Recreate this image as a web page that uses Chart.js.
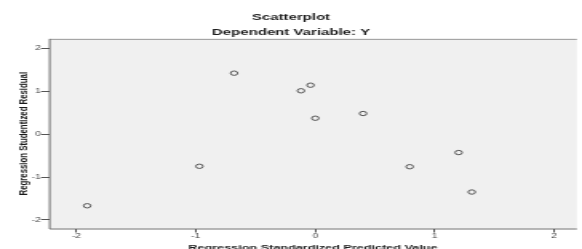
<!DOCTYPE html>
<html>
<head>
<meta charset="utf-8">
<script src="https://cdn.jsdelivr.net/npm/chart.js@4/dist/chart.umd.min.js"></script>
<style>
	html, body { margin: 0; padding: 0; background: #fff; overflow: hidden; }
	#Scatter { display: block; width: 582px; height: 249px; }
</style>
</head>
<body>
<canvas id="Scatter" width="364" height="249" style="width:582px;height:249px"></canvas>
<script>
// values
const predicted = [-0.68, -0.12, -0.04, 0.00, 0.40, -0.97, 0.79, 1.20, 1.31, -1.91];
const residual = [1.42, 1.01, 1.14, 0.37, 0.48, -0.75, -0.76, -0.43, -1.35, -1.67];
const title_lines = ["Scatterplot", "Dependent Variable: Y"];
const x_title = "Regression Standardized Predicted Value";
const y_title = "Regression Studentized Residual";

const FONT = "'Liberation Sans', Arial, sans-serif";

// the picture is stretched sideways, so the canvas is drawn narrow and widened by css
const plot_frame = {
	id: "plot_frame",
	beforeDraw(chart) {
		const {ctx, chartArea: a} = chart;
		ctx.save();
		ctx.fillStyle = "#f0f0f0";
		ctx.fillRect(a.left, a.top, a.right - a.left, a.bottom - a.top);
		ctx.lineWidth = 1;
		ctx.beginPath();
		ctx.moveTo(a.right, a.top + 0.5);
		ctx.lineTo(a.left + 0.5, a.top + 0.5);
		ctx.strokeStyle = "#999";
		ctx.stroke();
		ctx.beginPath();
		ctx.moveTo(a.left + 0.5, a.top);
		ctx.lineTo(a.left + 0.5, a.bottom + 0.5);
		ctx.lineTo(a.right, a.bottom + 0.5);
		ctx.strokeStyle = "#707070";
		ctx.stroke();
		ctx.restore();
	}
};

function no_padding(scale) {
	scale.paddingLeft = 0;
	scale.paddingRight = 0;
	scale.paddingTop = 0;
	scale.paddingBottom = 0;
}

const tick_font = {family: FONT, size: 6.5};

new Chart(document.getElementById("Scatter").getContext("2d"), {
	type: "scatter",
	data: {
		datasets: [{
			data: predicted.map((x, i) => ({x, y: residual[i]})),
			pointStyle: "circle",
			pointRadius: 2.2,
			pointHoverRadius: 2.2,
			borderWidth: 1,
			borderColor: "#555",
			backgroundColor: "rgba(0,0,0,0)"
		}]
	},
	options: {
		responsive: false,
		animation: false,
		devicePixelRatio: 1,
		layout: {padding: 0},
		plugins: {
			legend: {display: false},
			tooltip: {enabled: false},
			title: {
				display: true,
				text: title_lines[0],
				color: "#1a1a1a",
				font: {family: FONT, size: 9.4, weight: "bold"},
				padding: {top: 11.3, bottom: 0}
			},
			subtitle: {
				display: true,
				text: title_lines[1],
				color: "#1a1a1a",
				font: {family: FONT, size: 9.4, weight: "bold"},
				padding: {top: 3.7, bottom: 1.3}
			}
		},
		scales: {
			x: {
				type: "linear",
				min: -2.23,
				max: 2.19,
				border: {display: false},
				grid: {display: true, drawOnChartArea: false, drawTicks: true, tickLength: 4, color: "#555"},
				ticks: {stepSize: 1, includeBounds: false, padding: 0, color: "#444", font: tick_font},
				title: {
					display: true,
					text: x_title,
					color: "#1a1a1a",
					font: {family: FONT, size: 7.9, weight: "bold", lineHeight: 0.2},
					padding: 0
				},
				afterFit(scale) {
					scale.height = 20.5;
					no_padding(scale);
				}
			},
			y: {
				type: "linear",
				min: -2.2,
				max: 2.22,
				border: {display: false},
				grid: {display: true, drawOnChartArea: false, drawTicks: true, tickLength: 5, color: "#555"},
				ticks: {stepSize: 1, includeBounds: false, padding: 0, color: "#444", font: tick_font},
				title: {
					display: true,
					text: y_title,
					color: "#1a1a1a",
					font: {family: FONT, size: 7.8, weight: "bold"},
					padding: {top: 10.5, bottom: 0}
				},
				afterFit(scale) {
					scale.width = 30.6;
					no_padding(scale);
				}
			}
		}
	},
	plugins: [plot_frame]
});
</script>
</body>
</html>
